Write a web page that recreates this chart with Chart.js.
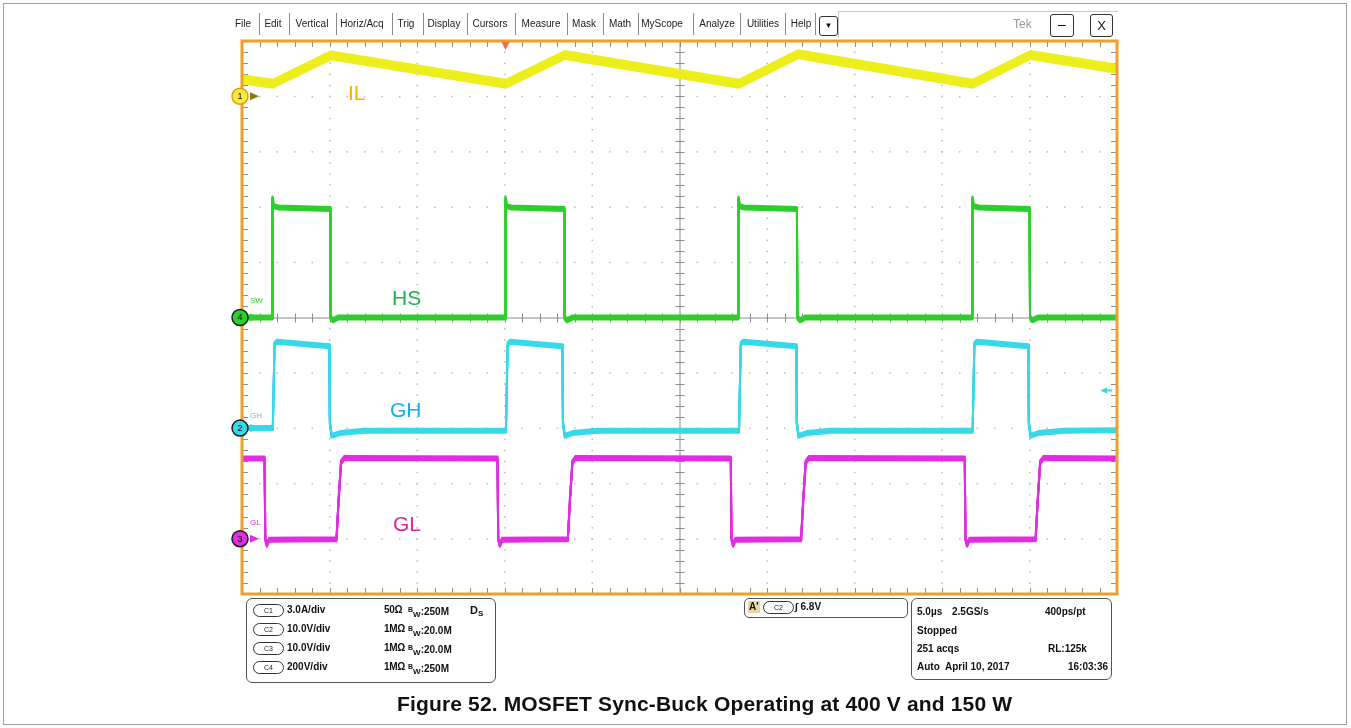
<!DOCTYPE html>
<html>
<head>
<meta charset="utf-8">
<script src="https://cdn.jsdelivr.net/npm/chart.js@4.4.1/dist/chart.umd.min.js"></script>
<style>
body { margin: 0; background: #fff; font-family: "Liberation Sans", Arial, sans-serif; }
#page { position: relative; width: 1351px; height: 728px; overflow: hidden; }
#frame { position: absolute; left: 3px; top: 3px; width: 1342px; height: 720px; border: 1px solid #a0a0a0; }
#wrap { position: absolute; left: 0; top: 0; width: 1351px; height: 728px; }
.abs { position: absolute; white-space: nowrap; }
.menu { font-size: 10px; color: #222; top: 18px; line-height: 12px; transform: translateX(-50%); }
.sep { position: absolute; top: 13px; width: 1px; height: 22px; background: #8a8a8a; }
.btn { position: absolute; border: 1px solid #333; border-radius: 3px; background: #fff; text-align: center; color: #111; }
.box { position: absolute; border: 1px solid #555; border-radius: 6px; }
.info { font-size: 10px; font-weight: bold; color: #111; line-height: 12px; }
.pill { position: absolute; border: 1px solid #333; border-radius: 7px; width: 29px; height: 11px; font-size: 7px; line-height: 11px; text-align: center; color: #222; }
.bw sup { font-size: 7px; vertical-align: 3px; }
.bw sub { font-size: 8px; vertical-align: -2px; }
#caption { left: 397px; top: 692px; font-size: 21px; letter-spacing: 0.15px; font-weight: bold; color: #111; }
</style>
</head>
<body>
<div id="page">
  <div id="frame"></div>
  <div id="wrap"><canvas id="scope"></canvas></div>
  <div id="overlay"></div>
  <div id="caption" class="abs">Figure 52. MOSFET Sync-Buck Operating at 400 V and 150 W</div>
</div>
<script>
// scope settings
const timePerDiv = 5.0;          // µs/div
const channelNames = ["IL", "HS", "GH", "GL"];
const channelNumbers = ["1", "4", "2", "3"];
const unitsPerDiv = [3.0, 200, 10.0, 10.0];
const groundDiv = [4, 0, -2, -4];
const traceColors = ["#eeee1c", "#2ccf2c", "#38d8e8", "#e02ee0"];
const labelColors = ["#f5b400", "#1db24e", "#14aeea", "#e0249a"];
const triggerTimeUs = 15.06;
const triggerLevelV = 6.8;

// IL (A)
const ilTimeUs = [0, 1.75, 5.08, 15.08, 18.45, 28.4, 31.78, 41.75, 45.05, 50];
const ilAmps = [0.92, 0.68, 2.22, 0.68, 2.24, 0.68, 2.28, 0.68, 2.24, 1.5];

// HS / SW node (V)
const hsTimeUs = [0, 1.74, 1.74, 1.82, 2.1, 5.03, 5.06, 5.2, 5.5,
  15.06, 15.06, 15.14, 15.4, 18.4, 18.43, 18.57, 18.9,
  28.37, 28.37, 28.45, 28.7, 31.71, 31.74, 31.88, 32.2,
  41.74, 41.74, 41.82, 42.1, 45.0, 45.03, 45.17, 45.5, 50];
const hsVolts = [0, 0, 430, 402, 398, 392, 0, -10, 0,
  0, 430, 402, 398, 392, 0, -10, 0,
  0, 430, 402, 398, 392, 0, -10, 0,
  0, 430, 402, 398, 392, 0, -10, 0, 0];

// GH (V)
const ghTimeUs = [0, 1.76, 1.86, 2.0, 4.98, 5.02, 5.12, 5.6, 7.0,
  15.08, 15.18, 15.32, 18.3, 18.34, 18.44, 18.9, 20.3,
  28.4, 28.5, 28.64, 31.66, 31.7, 31.8, 32.3, 33.7,
  41.75, 41.85, 41.99, 44.92, 44.96, 45.06, 45.5, 47.0, 50];
const ghVolts = [0, 0, 15.2, 15.6, 14.8, 1, -1.4, -0.9, -0.5,
  -0.5, 15.2, 15.6, 14.8, 1, -1.4, -0.9, -0.5,
  -0.5, 15.2, 15.6, 14.8, 1, -1.4, -0.9, -0.5,
  -0.5, 15.2, 15.6, 14.8, 1, -1.4, -0.9, -0.5, -0.4];

// GL (V)
const glTimeUs = [0, 1.29, 1.33, 1.42, 1.55, 5.4, 5.52, 5.66, 5.85,
  14.6, 14.64, 14.73, 14.86, 18.62, 18.74, 18.88, 19.05,
  27.93, 27.97, 28.06, 28.19, 31.95, 32.07, 32.21, 32.4,
  41.3, 41.34, 41.43, 41.56, 45.35, 45.47, 45.61, 45.8, 50];
const glVolts = [14.5, 14.5, 0, -1.1, -0.2, -0.1, 7, 13.8, 14.6,
  14.5, 0, -1.1, -0.2, -0.1, 7, 13.8, 14.6,
  14.5, 0, -1.1, -0.2, -0.1, 7, 13.8, 14.6,
  14.5, 0, -1.1, -0.2, -0.1, 7, 13.8, 14.6, 14.5];

const traceTimes = [ilTimeUs, hsTimeUs, ghTimeUs, glTimeUs];
const traceValues = [ilAmps, hsVolts, ghVolts, glVolts];
const traceWidths = [3, 2, 2, 2];
const traceFuzz = [3.5, 2, 2, 2];   // vertical noise band (px)

function toPoints(t, v) { return t.map((x, i) => ({ x: x, y: v[i] })); }

// one hidden y axis per channel, placed by its ground offset and scale
const scales = { x: { type: "linear", min: 0, max: timePerDiv * 10, display: false } };
channelNames.forEach((name, i) => {
  scales["y" + name] = {
    type: "linear", display: false,
    min: (-5 - groundDiv[i]) * unitsPerDiv[i],
    max: (5 - groundDiv[i]) * unitsPerDiv[i]
  };
});

const datasets = channelNames.map((name, i) => ({
  label: name,
  data: toPoints(traceTimes[i], traceValues[i]),
  yAxisID: "y" + name,
  borderColor: traceColors[i],
  borderWidth: traceWidths[i],
  pointRadius: 0,
  tension: 0,
  fill: false,
  borderJoinStyle: "round"
}));

// grid, border, markers and on-screen labels
const scopePlugin = {
  id: "scope",
  beforeDatasetsDraw(chart) {
    const { ctx, chartArea: a } = chart;
    const w = a.right - a.left, h = a.bottom - a.top;
    ctx.save();
    ctx.fillStyle = "#bcbcbc";
    for (let i = 1; i < 10; i++) {
      if (i === 5) continue;
      const gx = a.left + w * i / 10;
      for (let k = 1; k < 50; k++) ctx.fillRect(gx - 0.5, a.top + h * k / 50 - 0.5, 1.5, 1.5);
      const gy = a.top + h * i / 10;
      for (let k = 1; k < 50; k++) ctx.fillRect(a.left + w * k / 50 - 0.5, gy - 0.5, 1.5, 1.5);
    }
    // center cross with ticks
    const cx = a.left + w / 2, cy = a.top + h / 2;
    ctx.strokeStyle = "#8c8c8c";
    ctx.lineWidth = 1;
    ctx.beginPath();
    ctx.moveTo(cx + 0.5, a.top); ctx.lineTo(cx + 0.5, a.bottom);
    ctx.moveTo(a.left, cy + 0.5); ctx.lineTo(a.right, cy + 0.5);
    for (let k = 1; k < 50; k++) {
      const ty = Math.round(a.top + h * k / 50) + 0.5;
      ctx.moveTo(cx - 4, ty); ctx.lineTo(cx + 5, ty);
      const tx = Math.round(a.left + w * k / 50) + 0.5;
      ctx.moveTo(tx, cy - 4); ctx.lineTo(tx, cy + 5);
    }
    // edge ticks
    for (let k = 1; k < 50; k++) {
      const tx = Math.round(a.left + w * k / 50) + 0.5;
      ctx.moveTo(tx, a.top); ctx.lineTo(tx, a.top + 6);
      ctx.moveTo(tx, a.bottom); ctx.lineTo(tx, a.bottom - 6);
      const ty = Math.round(a.top + h * k / 50) + 0.5;
      ctx.moveTo(a.left, ty); ctx.lineTo(a.left + 6, ty);
      ctx.moveTo(a.right, ty); ctx.lineTo(a.right - 6, ty);
    }
    ctx.stroke();
    ctx.restore();
  },
  // thicken traces vertically only, like acquisition noise
  afterDatasetDraw(chart, args) {
    const ctx = chart.ctx, f = traceFuzz[args.index];
    [-f, -f / 2, f / 2, f].forEach(d => {
      ctx.save();
      ctx.translate(0, d);
      args.meta.dataset.draw(ctx, chart.chartArea);
      ctx.restore();
    });
  },
  afterDatasetsDraw(chart) {
    const { ctx, chartArea: a, scales: s } = chart;
    ctx.save();
    ctx.strokeStyle = "#f0a02a";
    ctx.lineWidth = 3;
    ctx.strokeRect(a.left, a.top, a.right - a.left, a.bottom - a.top);

    // trigger position marker (top) and trigger level (right)
    const tx = s.x.getPixelForValue(triggerTimeUs);
    ctx.fillStyle = "#f06a48";
    ctx.beginPath();
    ctx.moveTo(tx - 4, a.top + 1); ctx.lineTo(tx + 4, a.top + 1); ctx.lineTo(tx, a.top + 9);
    ctx.closePath(); ctx.fill();
    const ly = s.yGH.getPixelForValue(triggerLevelV);
    ctx.fillStyle = traceColors[2];
    ctx.beginPath();
    ctx.moveTo(a.right - 17, ly); ctx.lineTo(a.right - 10, ly - 3); ctx.lineTo(a.right - 10, ly + 3);
    ctx.closePath(); ctx.fill();
    ctx.fillRect(a.right - 11, ly - 1, 6, 2);

    // channel ground markers
    channelNames.forEach((name, i) => {
      const gy = s["y" + name].getPixelForValue(0);
      ctx.fillStyle = i === 0 ? "#8a7a10" : traceColors[i];
      ctx.beginPath();
      ctx.moveTo(a.left + 8, gy - 4); ctx.lineTo(a.left + 17, gy); ctx.lineTo(a.left + 8, gy + 4);
      ctx.closePath(); ctx.fill();
      ctx.beginPath();
      ctx.arc(a.left - 2, gy, 8, 0, Math.PI * 2);
      ctx.fillStyle = i === 0 ? "#f6ea3a" : traceColors[i];
      ctx.fill();
      ctx.lineWidth = 1.5;
      ctx.strokeStyle = i === 0 ? "#e39a1a" : "#1e1e1e";
      ctx.stroke();
      ctx.fillStyle = "#111";
      ctx.font = "9px 'Liberation Sans', Arial";
      ctx.textAlign = "center";
      ctx.textBaseline = "middle";
      ctx.fillText(channelNumbers[i], a.left - 2, gy + 0.5);
    });

    // big channel labels
    ctx.textAlign = "left";
    ctx.textBaseline = "alphabetic";
    ctx.font = "21px 'Liberation Sans', Arial";
    const bigLabels = [["IL", 348, 100], ["HS", 392, 305], ["GH", 390, 417], ["GL", 393, 531]];
    bigLabels.forEach((b, i) => { ctx.fillStyle = labelColors[i]; ctx.fillText(b[0], b[1], b[2]); });
    // small screen labels
    ctx.font = "8px 'Liberation Sans', Arial";
    const smallLabels = [["SW", 250, 303, traceColors[1]], ["GH", 250, 418, traceColors[2]], ["GL", 250, 525, traceColors[3]]];
    smallLabels.forEach(b => { ctx.fillStyle = b[3]; ctx.fillText(b[0], b[1], b[2]); });
    ctx.restore();
  }
};

new Chart(document.getElementById("scope"), {
  type: "line",
  data: { datasets: datasets },
  options: {
    responsive: true,
    maintainAspectRatio: false,
    animation: false,
    events: [],
    layout: { padding: { left: 242, right: 234, top: 41, bottom: 134 } },
    plugins: { legend: { display: false }, tooltip: { enabled: false } },
    scales: scales
  },
  plugins: [scopePlugin]
});

// menu bar and readout boxes
const menuItems = ["File", "Edit", "Vertical", "Horiz/Acq", "Trig", "Display", "Cursors", "Measure", "Mask", "Math", "MyScope", "Analyze", "Utilities", "Help"];
const menuCenters = [243, 273, 312, 362, 406, 444, 490, 541, 584, 620, 662, 717, 763, 801];
const menuSeps = [259, 289, 336, 392, 423, 467, 515, 567, 603, 638, 693, 740, 785, 815];

let html = "";
menuItems.forEach((m, i) => { html += `<div class="abs menu" style="left:${menuCenters[i]}px">${m}</div>`; });
menuSeps.forEach(x => { html += `<div class="sep" style="left:${x}px"></div>`; });
html += `<div class="btn" style="left:819px;top:16px;width:17px;height:18px;font-size:8px;line-height:18px">&#9660;</div>`;
html += `<div class="abs" style="left:838px;top:11px;width:280px;height:1px;background:#c8c8c8"></div>`;
html += `<div class="abs" style="left:838px;top:11px;width:1px;height:27px;background:#c8c8c8"></div>`;
html += `<div class="abs" style="left:1013px;top:17px;font-size:12px;color:#9a9a9a">Tek</div>`;
html += `<div class="btn" style="left:1050px;top:14px;width:22px;height:21px;font-size:14px;line-height:19px">&#8211;</div>`;
html += `<div class="btn" style="left:1090px;top:14px;width:21px;height:21px;font-size:13px;line-height:21px">X</div>`;

// vertical readout box
const chLabels = ["C1", "C2", "C3", "C4"];
const chScales = ["3.0A/div", "10.0V/div", "10.0V/div", "200V/div"];
const chImpedance = ["50\u03A9", "1M\u03A9", "1M\u03A9", "1M\u03A9"];
const chBandwidth = ["250M", "20.0M", "20.0M", "250M"];
const rowY = [610, 629, 648, 667];
html += `<div class="box" style="left:246px;top:598px;width:248px;height:83px"></div>`;
chLabels.forEach((c, i) => {
  const y = rowY[i];
  html += `<div class="pill" style="left:253px;top:${y - 6}px">${c}</div>`;
  html += `<div class="abs info" style="left:287px;top:${y - 6}px">${chScales[i]}</div>`;
  html += `<div class="abs info" style="left:384px;top:${y - 6}px;letter-spacing:-0.3px">${chImpedance[i]}</div>`;
  html += `<div class="abs info bw" style="left:408px;top:${y - 6}px"><sup>B</sup><sub>W</sub>:${chBandwidth[i]}</div>`;
});
html += `<div class="abs info bw" style="left:470px;top:604px;font-size:11px">D<sub>S</sub></div>`;

// trigger box
html += `<div class="box" style="left:744px;top:598px;width:162px;height:18px;border-radius:5px"></div>`;
html += `<div class="abs info" style="left:748px;top:601px;background:#e6d7a4;padding:0 1px;line-height:12px">A'</div>`;
html += `<div class="pill" style="left:763px;top:601px">C2</div>`;
html += `<div class="abs info" style="left:795px;top:601px">&#8747; 6.8V</div>`;

// horizontal readout box
html += `<div class="box" style="left:911px;top:598px;width:199px;height:80px"></div>`;
const hRows = [
  [["5.0\u00B5s", 917], ["2.5GS/s", 952], ["400ps/pt", 1045]],
  [["Stopped", 917]],
  [["251 acqs", 917], ["RL:125k", 1048]],
  [["Auto", 917], ["April 10, 2017", 945], ["16:03:36", 1068]]
];
const hRowY = [612, 631, 649, 667];
hRows.forEach((r, j) => r.forEach(c => {
  html += `<div class="abs info" style="left:${c[1]}px;top:${hRowY[j] - 6}px">${c[0]}</div>`;
}));
document.getElementById("overlay").innerHTML = html;
</script>
</body>
</html>
